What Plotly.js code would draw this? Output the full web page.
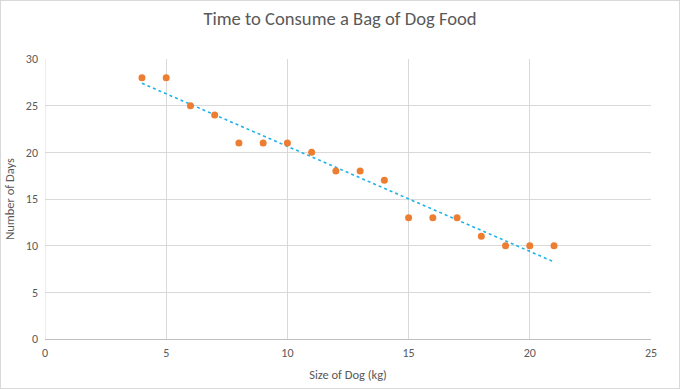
<!DOCTYPE html>
<html>
<head>
<meta charset="utf-8">
<script src="https://cdn.plot.ly/plotly-3.0.1.min.js"></script>
<style>
html,body{margin:0;padding:0;background:#fff;}
#chart{width:680px;height:389px;box-sizing:border-box;border:1px solid #d9d9d9;}
</style>
</head>
<body>
<div id="chart"></div>
<script>
const dogSize = [4,5,6,7,8,9,10,11,12,13,14,15,16,17,18,19,20,21];
const days = [28,28,25,24,21,21,21,20,18,18,17,13,13,13,11,10,10,10];
const trendX = [4,21];
const trendY = [27.4,8.26];

const data = [
  {x: trendX, y: trendY, type:'scatter', mode:'lines',
   line:{color:'#1fb3e8', width:1.6, dash:'dot'}, hoverinfo:'skip', showlegend:false},
  {x: dogSize, y: days, type:'scatter', mode:'markers',
   marker:{color:'#ed7d31', size:7}, showlegend:false}
];

const font = "Calibri, Carlito, 'Open Sans', 'Liberation Sans', sans-serif";
const layout = {
  width:678, height:387,
  margin:{l:44, r:28, t:58, b:49},
  paper_bgcolor:'#fff', plot_bgcolor:'#fff',
  font:{family:font, color:'#595959', size:12},
  title:{text:'Time to Consume a Bag of Dog Food', x:0.5, xanchor:'center', y:0.955, yanchor:'middle',
         font:{family:font, size:18.6, color:'#595959'}},
  xaxis:{range:[0,25], dtick:5, tick0:0, showgrid:true, gridcolor:'#d9d9d9', gridwidth:1,
         zeroline:false, showline:true, linecolor:'#bfbfbf', linewidth:1, ticks:'', ticklabelstandoff:3,
         tickfont:{size:12, color:'#595959'},
         title:{text:'Size of Dog (kg)', font:{size:12.5, color:'#595959'}, standoff:10}},
  yaxis:{range:[0,30], dtick:5, tick0:0, showgrid:true, gridcolor:'#d9d9d9', gridwidth:1,
         zeroline:false, showline:false, ticks:'', ticklabelstandoff:6,
         tickfont:{size:12, color:'#595959'},
         title:{text:'Number of Days', font:{size:12.5, color:'#595959'}, standoff:8}},
  shapes:[{type:'line', xref:'x', yref:'y', x0:0, x1:0, y0:0, y1:30, line:{color:'#d9d9d9', width:1}}]
};
Plotly.newPlot('chart', data, layout, {displayModeBar:false, staticPlot:true});
</script>
</body>
</html>
